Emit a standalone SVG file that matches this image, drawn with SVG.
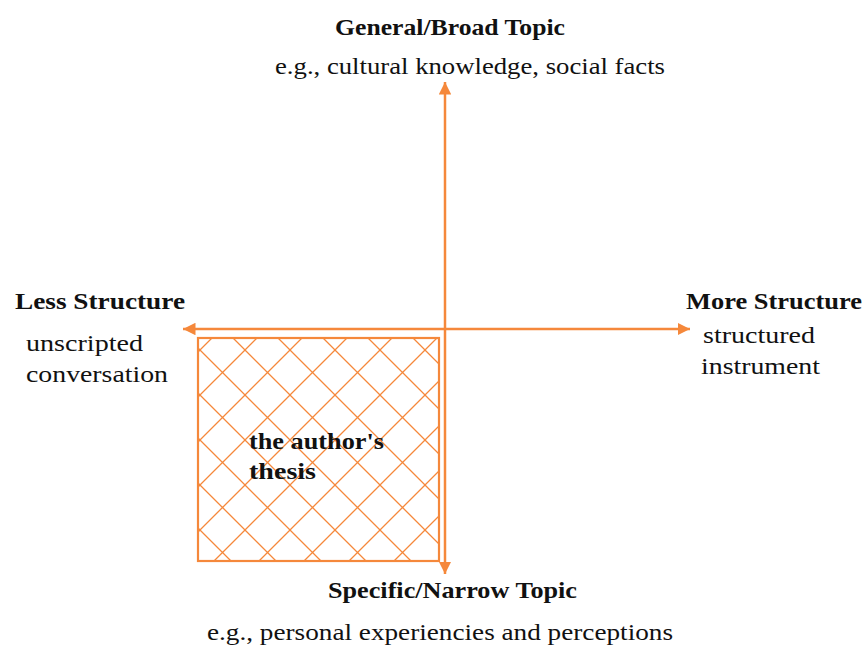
<svg xmlns="http://www.w3.org/2000/svg" width="866" height="648" viewBox="0 0 866 648">
<style>
text{font-family:"Liberation Serif","Times New Roman",serif;font-size:23px;fill:#111}
.b{font-weight:bold}
.ax{stroke:#F5883B;stroke-width:2.5;fill:none}
</style>
<defs>
<marker id="ah" viewBox="0 0 10 10" refX="10" refY="5" markerWidth="5" markerHeight="5" orient="auto" markerUnits="strokeWidth">
<path d="M0,0 L10,5 L0,10 Z" fill="#F5883B"/>
</marker>
<pattern id="hatch" patternUnits="userSpaceOnUse" x="20" y="35" width="45" height="45">
<path d="M0,0 L45,45 M45,0 L0,45 M-5,40 L5,50 M40,-5 L50,5 M-5,5 L5,-5 M40,50 L50,40" stroke="#F5883B" stroke-width="1.3" fill="none"/>
</pattern>
</defs>
<g id="thesis">
<rect x="198" y="338" width="241" height="223" fill="url(#hatch)" stroke="#F5883B" stroke-width="2.2"/>
<text class="b" x="249" y="449" textLength="135" lengthAdjust="spacingAndGlyphs">the author's</text>
<text class="b" x="249" y="479" textLength="67" lengthAdjust="spacingAndGlyphs">thesis</text>
</g>
<g id="connectors">
<line class="ax" x1="445" y1="329" x2="445" y2="82" marker-end="url(#ah)"/>
<line class="ax" x1="445" y1="329" x2="445" y2="574" marker-end="url(#ah)"/>
<line class="ax" x1="445" y1="329" x2="183" y2="329" marker-end="url(#ah)"/>
<line class="ax" x1="445" y1="329" x2="690" y2="329" marker-end="url(#ah)"/>
</g>
<g id="top">
<text class="b" x="335" y="35" textLength="230" lengthAdjust="spacingAndGlyphs">General/Broad Topic</text>
<text x="275" y="74" textLength="390" lengthAdjust="spacingAndGlyphs">e.g., cultural knowledge, social facts</text>
</g>
<g id="left">
<text class="b" x="15" y="309" textLength="170" lengthAdjust="spacingAndGlyphs">Less Structure</text>
<text x="26" y="351" textLength="117" lengthAdjust="spacingAndGlyphs">unscripted</text>
<text x="26" y="382" textLength="142" lengthAdjust="spacingAndGlyphs">conversation</text>
</g>
<g id="right">
<text class="b" x="686" y="309" textLength="176" lengthAdjust="spacingAndGlyphs">More Structure</text>
<text x="703" y="343" textLength="112" lengthAdjust="spacingAndGlyphs">structured</text>
<text x="701" y="374" textLength="119" lengthAdjust="spacingAndGlyphs">instrument</text>
</g>
<g id="bottom">
<text class="b" x="328" y="598" textLength="249" lengthAdjust="spacingAndGlyphs">Specific/Narrow Topic</text>
<text x="207" y="640" textLength="466" lengthAdjust="spacingAndGlyphs">e.g., personal experiencies and perceptions</text>
</g>
</svg>
